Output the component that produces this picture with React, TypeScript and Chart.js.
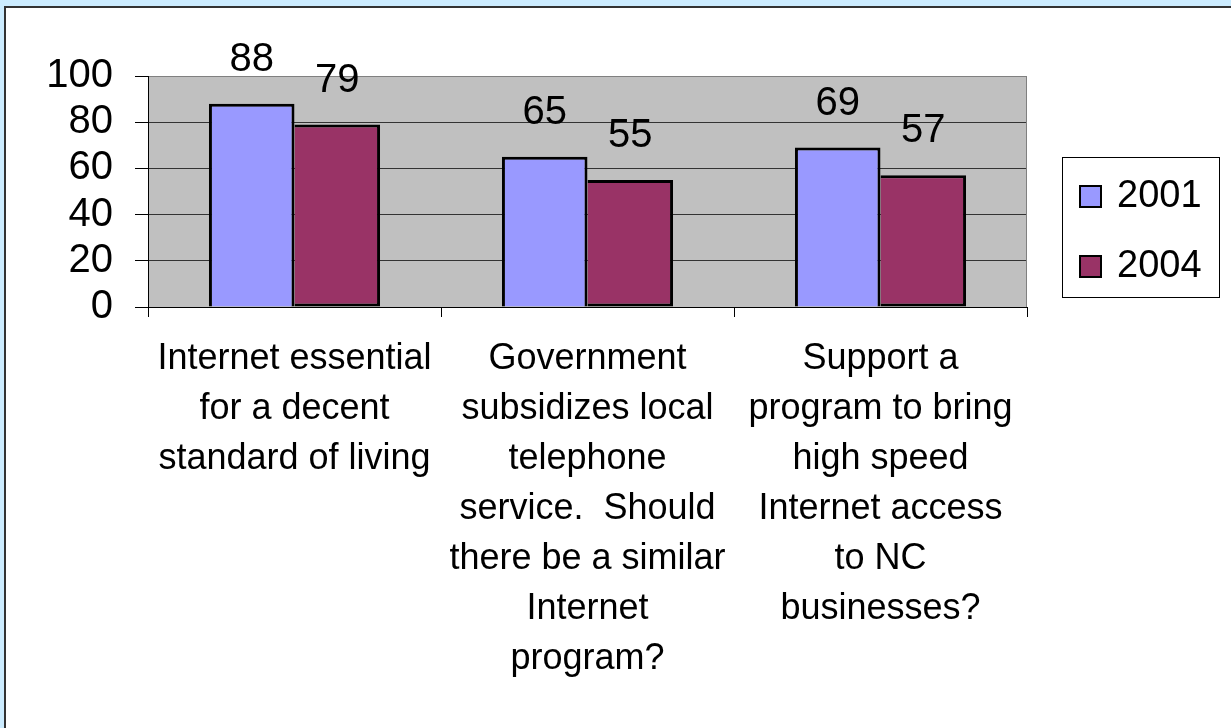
import React, { useEffect, useRef } from "react";
import { Chart, registerables } from "chart.js";

Chart.register(...registerables);

const categories: string[][] = [
  ["Internet essential", "for a decent", "standard of living"],
  [
    "Government",
    "subsidizes local",
    "telephone",
    "service.  Should",
    "there be a similar",
    "Internet",
    "program?",
  ],
  [
    "Support a",
    "program to bring",
    "high speed",
    "Internet access",
    "to NC",
    "businesses?",
  ],
];
const seriesNames = ["2001", "2004"];
const values2001 = [88, 65, 69];
const values2004 = [79, 55, 57];
const yMin = 0;
const yMax = 100;
const yStep = 20;
const seriesColors = ["#9999FF", "#993366"];

const FONT = "'Liberation Sans', Arial, Helvetica, sans-serif";

const plotBgPlugin = {
  id: "plotBg",
  beforeDraw(chart: any) {
    const { ctx, chartArea } = chart;
    ctx.save();
    ctx.fillStyle = "#C0C0C0";
    ctx.fillRect(
      chartArea.left,
      chartArea.top,
      chartArea.right - chartArea.left,
      chartArea.bottom - chartArea.top
    );
    ctx.restore();
  },
  afterDatasetsDraw(chart: any) {
    const { ctx, chartArea } = chart;
    ctx.save();
    ctx.strokeStyle = "#808080";
    ctx.lineWidth = 1;
    ctx.beginPath();
    ctx.moveTo(Math.round(chartArea.right) - 0.5, chartArea.top);
    ctx.lineTo(Math.round(chartArea.right) - 0.5, chartArea.bottom);
    ctx.stroke();
    ctx.restore();
  },
};

const valueLabelPlugin = {
  id: "valueLabels",
  afterDatasetsDraw(chart: any) {
    const { ctx } = chart;
    ctx.save();
    ctx.font = `40px ${FONT}`;
    ctx.fillStyle = "#000";
    ctx.textAlign = "center";
    ctx.textBaseline = "alphabetic";
    chart.data.datasets.forEach((ds: any, di: number) => {
      const meta = chart.getDatasetMeta(di);
      meta.data.forEach((bar: any, i: number) => {
        ctx.fillText(String(ds.data[i]), bar.x, bar.y - 33);
      });
    });
    ctx.restore();
  },
};

const legendPlugin = {
  id: "customLegend",
  afterDraw(chart: any) {
    const { ctx } = chart;
    const bx = 1062;
    const by = 157;
    const bw = 157;
    const bh = 140;
    ctx.save();
    ctx.fillStyle = "#FFFFFF";
    ctx.fillRect(bx, by, bw, bh);
    ctx.strokeStyle = "#000";
    ctx.lineWidth = 1;
    ctx.strokeRect(bx + 0.5, by + 0.5, bw, bh);
    ctx.font = `38px ${FONT}`;
    ctx.textAlign = "left";
    ctx.textBaseline = "alphabetic";
    chart.data.datasets.forEach((ds: any, i: number) => {
      const baseY = 207 + i * 70;
      ctx.fillStyle = ds.backgroundColor;
      ctx.fillRect(1080, baseY - 21, 21, 21);
      ctx.strokeStyle = "#000";
      ctx.lineWidth = 2;
      ctx.strokeRect(1080, baseY - 21, 21, 21);
      ctx.fillStyle = "#000";
      ctx.fillText(ds.label, 1117, baseY);
    });
    ctx.restore();
  },
};

export default function App() {
  const canvasRef = useRef<HTMLCanvasElement | null>(null);

  useEffect(() => {
    if (!canvasRef.current) return;
    const chart = new Chart(canvasRef.current, {
      type: "bar",
      data: {
        labels: categories as any,
        datasets: [
          {
            label: seriesNames[0],
            data: values2001,
            backgroundColor: seriesColors[0],
            borderColor: "#000",
            borderWidth: 3,
            borderSkipped: "bottom",
            barPercentage: 1,
            categoryPercentage: 0.584,
          },
          {
            label: seriesNames[1],
            data: values2004,
            backgroundColor: seriesColors[1],
            borderColor: "#000",
            borderWidth: 3,
            borderSkipped: "left",
            barPercentage: 1,
            categoryPercentage: 0.584,
          },
        ],
      },
      options: {
        responsive: false,
        animation: false,
        devicePixelRatio: 1,
        layout: { padding: { top: 76, right: 204, bottom: 0, left: 0 } },
        plugins: {
          legend: { display: false },
          tooltip: { enabled: false },
          title: { display: false },
        },
        scales: {
          x: {
            afterFit: (scale: any) => {
              scale.height = 421;
            },
            grid: {
              offset: true,
              drawOnChartArea: false,
              drawTicks: true,
              tickLength: 10,
              color: "#000",
            },
            border: { display: true, color: "#000", width: 1 },
            ticks: {
              autoSkip: false,
              maxRotation: 0,
              minRotation: 0,
              padding: 17,
              color: "#000",
              font: { family: FONT, size: 36, lineHeight: 50 / 36 },
            },
          },
          y: {
            min: yMin,
            max: yMax,
            afterFit: (scale: any) => {
              scale.width = 148;
            },
            grid: {
              color: (c: any) => (c.tick && c.tick.value === yMax ? "#808080" : "#333333"),
              tickColor: "#000",
              tickLength: 13,
              lineWidth: 1,
            },
            border: { display: true, color: "#000", width: 1 },
            ticks: {
              stepSize: yStep,
              autoSkip: false,
              padding: 22,
              color: "#000",
              font: { family: FONT, size: 40 },
            },
          },
        },
      },
      plugins: [plotBgPlugin, valueLabelPlugin, legendPlugin],
    });
    return () => chart.destroy();
  }, []);

  return (
    <div
      style={{
        position: "absolute",
        left: 0,
        top: 0,
        width: 1231,
        height: 728,
        background: "#CCECFF",
        overflow: "hidden",
      }}
    >
      <div
        style={{
          position: "absolute",
          left: 4,
          top: 6,
          right: 0,
          bottom: 0,
          background: "#FFFFFF",
          borderLeft: "2px solid #333",
          borderTop: "2px solid #333",
        }}
      />
      <canvas
        ref={canvasRef}
        width={1231}
        height={728}
        style={{ position: "absolute", left: 0, top: 0, width: 1231, height: 728 }}
      />
    </div>
  );
}
